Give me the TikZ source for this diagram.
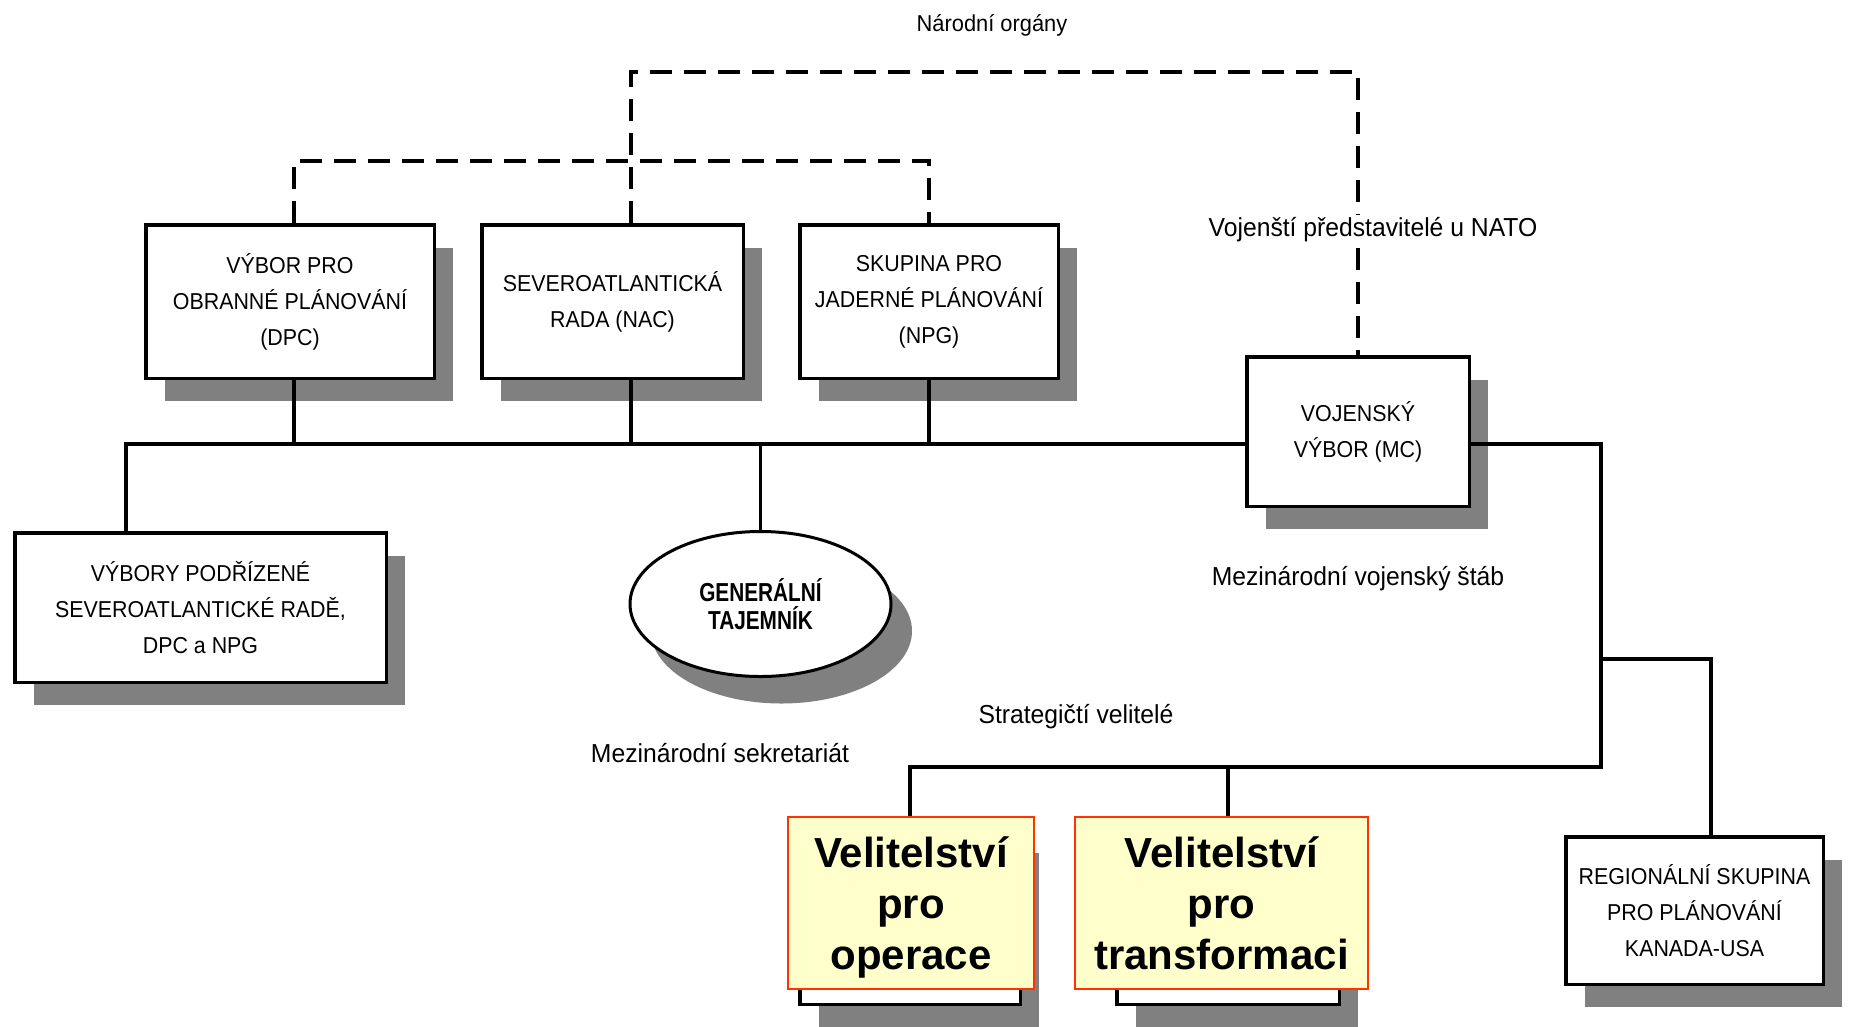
\documentclass[tikz,border=0pt]{standalone}
\usepackage{fontspec}
\setmainfont{Liberation Sans}
\newfontfamily\boxfont[FakeStretch=0.93]{Liberation Sans}
\newfontfamily\lblfont[FakeStretch=0.95]{Liberation Sans}
\newfontfamily\gsfont[FakeStretch=0.8]{Liberation Sans Bold}
\usetikzlibrary{shapes.geometric,shadows}
\definecolor{shadowgray}{HTML}{808080}
\definecolor{yellowfill}{HTML}{FFFFCC}
\definecolor{redborder}{HTML}{FF3300}
\begin{document}
\begin{tikzpicture}[x=1pt,y=-1pt,
  conn/.style={line width=3.5pt},
  dashline/.style={line width=4pt, dash pattern=on 22pt off 12pt},
  boxshadow/.style={drop shadow={shadow xshift=19pt, shadow yshift=-23pt, fill=shadowgray, opacity=1}},
  box/.style={draw, line width=3.5pt, fill=white, inner sep=0pt, align=center,
    font=\boxfont\fontsize{23pt}{36pt}\selectfont, boxshadow},
  ybox/.style={draw=redborder, line width=2pt, fill=yellowfill, inner sep=0pt, align=center,
    font=\bfseries\fontsize{42pt}{51pt}\selectfont},
  lbl/.style={inner sep=3pt, font=\lblfont\fontsize{26pt}{30pt}\selectfont},
]
\useasboundingbox (0,0) rectangle (1854,1026);

% boxes
\node[box, minimum width=288.5pt, minimum height=153.5pt] (dpc) at (290,301.5)
  {VÝBOR PRO\\OBRANNÉ PLÁNOVÁNÍ\\(DPC)};
\node[box, minimum width=261.5pt, minimum height=153.5pt] (nac) at (612.5,301.5)
  {SEVEROATLANTICKÁ\\RADA (NAC)};
\node[box, minimum width=258.5pt, minimum height=153.5pt] (npg) at (929,301.5)
  {SKUPINA PRO\\JADERNÉ PLÁNOVÁNÍ\\(NPG)};
\node[box, minimum width=222.5pt, minimum height=149.5pt] (mc) at (1358,431.5)
  {VOJENSKÝ\\VÝBOR (MC)};
\node[box, minimum width=371.5pt, minimum height=149.5pt] (sub) at (200.5,607.5)
  {VÝBORY PODŘÍZENÉ\\SEVEROATLANTICKÉ RADĚ,\\DPC a NPG};
\node[box, minimum width=257.5pt, minimum height=147.5pt] (rg) at (1694.5,910.5)
  {REGIONÁLNÍ SKUPINA\\PRO PLÁNOVÁNÍ\\KANADA-USA};
\node[draw, ellipse, line width=3pt, fill=white, inner sep=0pt, align=center,
  minimum width=261pt, minimum height=145pt,
  font=\gsfont\fontsize{26pt}{28pt}\selectfont,
  drop shadow={shadow xshift=21pt, shadow yshift=-27pt, fill=shadowgray, opacity=1}]
  (gs) at (760.5,604) {GENERÁLNÍ\\TAJEMNÍK};

% strategic commands
\node[box, minimum width=220.5pt, minimum height=174.5pt] (opsback) at (910,917) {};
\node[box, minimum width=222.5pt, minimum height=174.5pt] (trback) at (1228,917) {};
\node[ybox, minimum width=246pt, minimum height=172pt, text depth=0pt] (ops) at (911,903)
  {Velitelství\\pro\\operace};
\node[ybox, minimum width=293pt, minimum height=172pt] (tr) at (1221.5,903)
  {Velitelství\\pro\\transformaci};

% coordinates
\coordinate (topy) at (0,72);
\coordinate (dl) at (0,161);
\coordinate (dpcx) at (294,0);
\coordinate (nacx) at (631,0);
\coordinate (L) at (126,444);
\coordinate (R) at (1601,767);
\coordinate (B) at (1601,659);
\coordinate (Bx) at (1711,659);

% dashed connectors
\draw[dashline] (nacx |- nac.north) -- (nacx |- topy) -| (mc.north);
\draw[dashline] (dpcx |- dpc.north) -- (dpcx |- dl) -| (npg.north);

% solid connectors
\draw[conn] (L |- sub.north) -- (L) -- (mc.west |- L);
\draw[conn] (dpcx |- dpc.south) -- (dpcx |- L);
\draw[conn] (nacx |- nac.south) -- (nacx |- L);
\draw[conn] (npg.south) -- (npg.south |- L);
\draw[conn] (gs.north) -- (gs.north |- L);
\draw[conn] (mc.east |- L) -| (R) -- (R -| opsback.north) -- (opsback.north |- ops.north);
\draw[conn] (R -| trback.north) -- (trback.north |- tr.north);
\draw[conn] (B) -- (Bx) -- (Bx |- rg.north);

% labels
\node[lbl, font=\lblfont\fontsize{23pt}{28pt}\selectfont] (nat) at (992,25) {Národní orgány};
\node[lbl, fill=white] (rep) at (1373,230) {Vojenští představitelé u NATO};
\node[lbl] (ims) at (1358,579) {Mezinárodní vojenský štáb};
\node[lbl] (sc) at (1076,717) {Strategičtí velitelé};
\node[lbl] (is) at (720,753) {Mezinárodní sekretariát};
\end{tikzpicture}
\end{document}
